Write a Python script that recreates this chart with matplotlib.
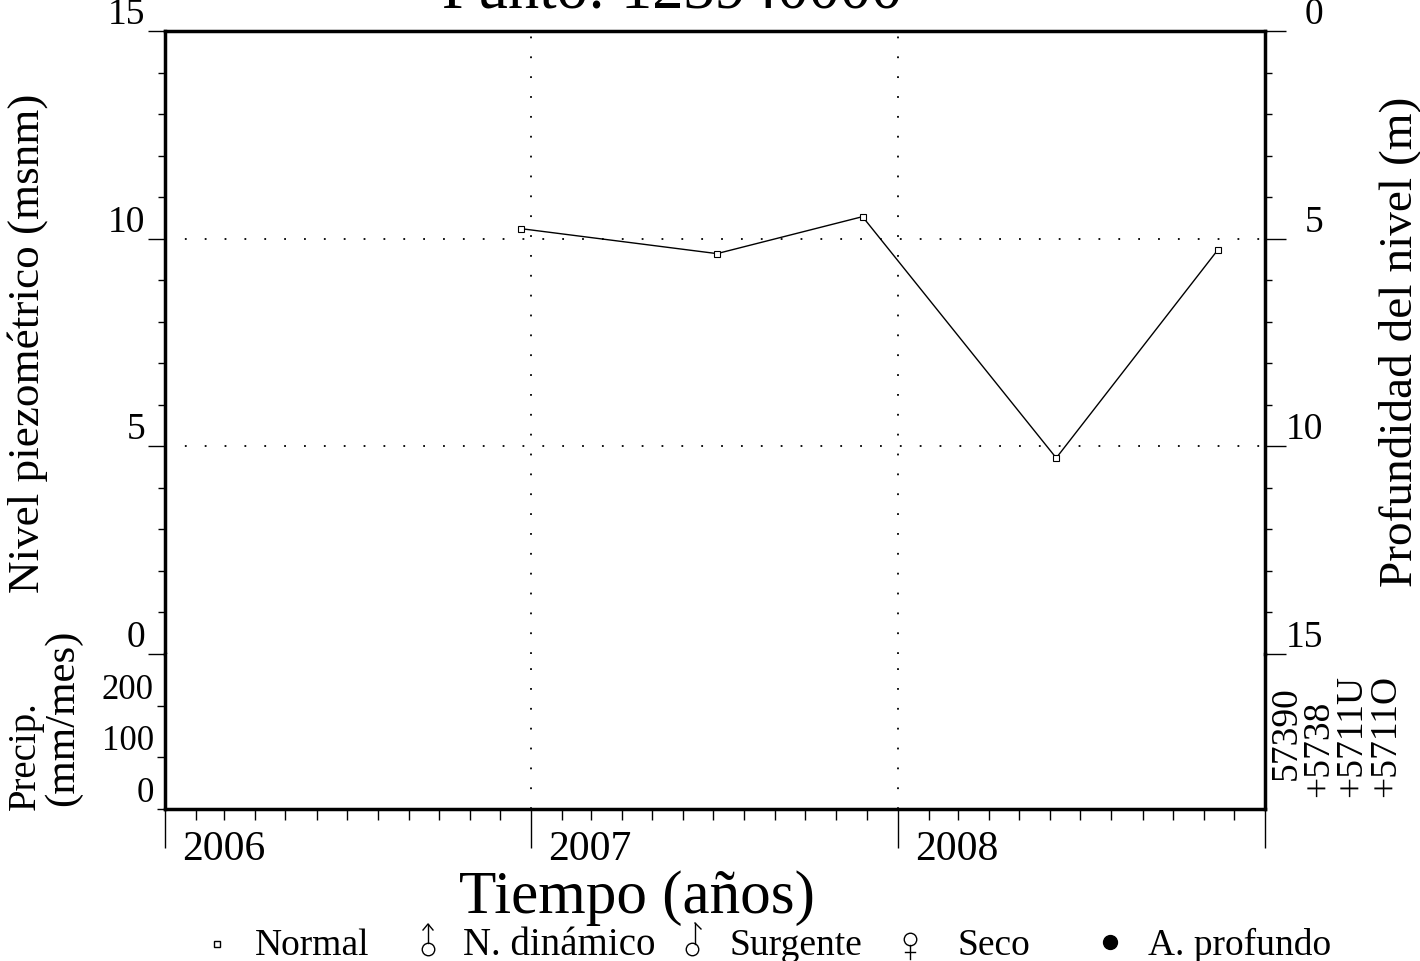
import numpy as np
import matplotlib
matplotlib.use('Agg')
import matplotlib.pyplot as plt
import matplotlib.dates as mdates
import matplotlib.transforms as mtrans
from matplotlib.lines import Line2D

plt.rcParams['font.family'] = ['Liberation Serif', 'DejaVu Serif']

# niveles medidos en el punto
fechas = np.array(['2006-12-22', '2007-07-05', '2007-11-27', '2008-06-07', '2008-11-15'],
                  dtype='datetime64[D]')
nivel = [10.24, 9.64, 10.53, 4.72, 9.73]  # msnm

anios = [2006, 2007, 2008]
ticks_nivel = [0, 5, 10, 15]
ticks_prof = [0, 5, 10, 15]
ticks_precip = [0, 100, 200]
codigos = ['57390', '+5738', '+5711U', '+5711O']
titulo = 'Punto: 123940000'

W, H = 1420, 962
fig = plt.figure(figsize=(W / 100, H / 100), dpi=100, facecolor='white')

def fx(x):
    return x / W

def fy(y):
    return 1 - y / H

# panel principal (nivel) y panel de precipitacion debajo
ax = fig.add_axes([fx(165), fy(655), 1100 / W, (655 - 32) / H])
axp = fig.add_axes([fx(165), fy(810), 1100 / W, (810 - 655) / H], sharex=ax)
axr = ax.twinx()

x0 = np.datetime64('2006-01-01')
x1 = np.datetime64('2009-01-01')
ax.set_xlim(x0, x1)
ax.set_ylim(0, 15)
axr.set_ylim(15, 0)
axp.set_ylim(0, 300)

punteado = dict(color='k', lw=1.3, ls=(0, (1, 10)))
for v in (5, 10):
    ax.axhline(v, **punteado)
for a in anios[1:]:
    ax.axvline(np.datetime64(f'{a}-01-01'), **punteado)
    axp.axvline(np.datetime64(f'{a}-01-01'), **punteado)

ax.plot(fechas, nivel, color='k', lw=1, marker='s', ms=4, mfc='white', mec='k', mew=0.8)

# bordes
for s in ('top', 'left'):
    ax.spines[s].set_linewidth(2.5)
ax.spines['bottom'].set_visible(False)
ax.spines['right'].set_visible(False)
for s in ('top', 'left', 'bottom'):
    axr.spines[s].set_visible(False)
axr.spines['right'].set_linewidth(2.5)
axp.spines['top'].set_visible(False)
for s in ('left', 'bottom', 'right'):
    axp.spines[s].set_linewidth(2.5)

# eje izquierdo
ax.set_yticks(ticks_nivel)
ax.set_yticks(range(16), minor=True)
ax.tick_params(axis='y', which='major', direction='out', length=12, width=1, pad=2, labelsize=27)
ax.tick_params(axis='y', which='minor', direction='out', length=5, width=1)
ax.tick_params(axis='x', which='both', bottom=False, labelbottom=False)
for lab in ax.get_yticklabels():
    lab.set_va('bottom')

# eje derecho: profundidad
axr.set_yticks(ticks_prof)
axr.set_yticks(range(16), minor=True)
axr.tick_params(axis='y', which='major', direction='out', length=15, width=1, pad=27, labelsize=27)
axr.tick_params(axis='y', which='minor', direction='out', length=5, width=1)
for lab in axr.get_yticklabels():
    lab.set_va('bottom')
    lab.set_ha('right')

# precipitacion
axp.set_yticks(ticks_precip)
axp.tick_params(axis='y', direction='out', length=6, width=1, pad=2, labelsize=25)
for lab in axp.get_yticklabels():
    lab.set_va('bottom')
axp.xaxis.set_major_locator(mdates.YearLocator())
axp.xaxis.set_minor_locator(mdates.MonthLocator())
axp.tick_params(axis='x', which='major', direction='out', length=28, width=1, labelbottom=False)
axp.tick_params(axis='x', which='minor', direction='out', length=8, width=1)

off = mtrans.offset_copy(mtrans.blended_transform_factory(axp.transData, axp.transAxes),
                         fig=fig, x=17, y=-40, units='dots')
for a in anios:
    axp.text(np.datetime64(f'{a}-01-01'), 0, str(a), transform=off,
             ha='left', va='center', fontsize=30)

# textos
fig.text(fx(672), fy(7), titulo, ha='center', va='baseline', fontsize=45)
fig.text(fx(637), fy(898), 'Tiempo (años)', ha='center', va='center', fontsize=44)
fig.text(fx(28), fy(343), 'Nivel piezométrico (msnm)', rotation=90,
         ha='center', va='center', fontsize=32.5)
fig.text(fx(1400), fy(342), 'Profundidad del nivel (m)', rotation=90,
         ha='center', va='center', fontsize=34)
fig.text(fx(25), fy(810), 'Precip.', rotation=90, ha='center', va='bottom', fontsize=28)
fig.text(fx(63), fy(806), '(mm/mes)', rotation=90, ha='center', va='bottom', fontsize=31)

for cod, xc, yb in zip(codigos, [1286, 1319, 1352, 1386], [780, 797, 797, 797]):
    fig.text(fx(xc), fy(yb), cod, rotation=90, ha='center', va='bottom', fontsize=27)

# leyenda de simbolos
pix = mtrans.Affine2D().scale(1, -1).translate(0, H)

def trazo(xs, ys, **kw):
    fig.add_artist(Line2D(xs, ys, transform=pix, color='k', lw=1, **kw))

trazo([217], [945], marker='s', ms=4.5, mfc='white', mec='k', ls='none')
fig.text(fx(255), fy(955), 'Normal', ha='left', va='baseline', fontsize=27)

trazo([428], [950], marker='o', ms=9, mfc='none', mec='k', ls='none')
trazo([428, 428], [944, 925])
trazo([423, 428, 433], [931, 925, 931])
fig.text(fx(463), fy(955), 'N. dinámico', ha='left', va='baseline', fontsize=28)

trazo([692], [950], marker='o', ms=9, mfc='none', mec='k', ls='none')
trazo([695, 695], [945, 924])
trazo([695, 701], [924, 930])
fig.text(fx(730), fy(955), 'Surgente', ha='left', va='baseline', fontsize=27)

trazo([910], [940], marker='o', ms=9, mfc='none', mec='k', ls='none')
trazo([910, 910], [946, 960])
trazo([905, 915], [953, 953])
fig.text(fx(958), fy(955), 'Seco', ha='left', va='baseline', fontsize=27)

trazo([1110], [943], marker='o', ms=10, mfc='k', mec='k', ls='none')
fig.text(fx(1148), fy(955), 'A. profundo', ha='left', va='baseline', fontsize=27)

fig.savefig('out.png', dpi=100)
